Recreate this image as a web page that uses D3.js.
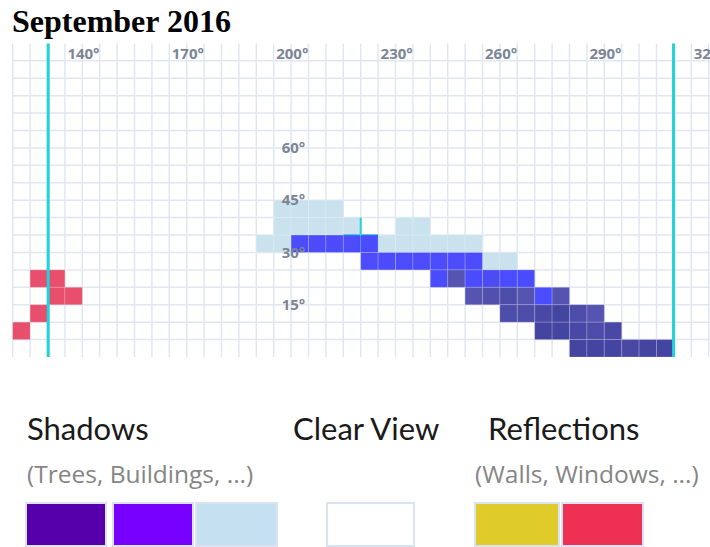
<!DOCTYPE html>
<html>
<head>
<meta charset="utf-8">
<script src="https://cdn.jsdelivr.net/npm/d3@7"></script>
<style>
  body { margin: 0; background: #fff; }
  svg { display: block; }
</style>
</head>
<body>
<svg id="grafico"></svg>
<script>
// rótulos dos eixos (graus)
const azimutesRotulo = [140, 170, 200, 230, 260, 290, 320];
const altitudesRotulo = [15, 30, 45, 60];

// caminho do sol: azimute, altitude (canto inferior esquerdo da célula) e tom (0 = claro, 1 = escuro)
const solAz = [205, 210, 215, 220, 225,
  225, 230, 235, 240, 245, 250, 255,
  245, 250, 255, 260, 265, 270,
  255, 260, 265, 270, 275, 280,
  265, 270, 275, 280, 285, 290,
  275, 280, 285, 290, 295,
  285, 290, 295, 300, 305, 310];
const solAlt = [30, 30, 30, 30, 30,
  25, 25, 25, 25, 25, 25, 25,
  20, 20, 20, 20, 20, 20,
  15, 15, 15, 15, 15, 15,
  10, 10, 10, 10, 10, 10,
  5, 5, 5, 5, 5,
  0, 0, 0, 0, 0, 0];
const solTom = [0.05, 0.05, 0.05, 0.05, 0,
  0.05, 0.05, 0.05, 0.05, 0.05, 0.05, 0.05,
  0, 0.8, 0, 0.1, 0, 0,
  0.8, 0.85, 0.9, 0.8, 0, 0.8,
  0.9, 0.9, 0.95, 1, 0.9, 0.8,
  1, 1, 0.95, 0.9, 0.95,
  1, 1, 1, 0.95, 1, 1];

// sombras leves (azul claro)
const sombraAz = [200, 205, 210, 215,
  200, 205, 210, 215, 220, 235, 240,
  195, 200, 230, 235, 240, 245, 250, 255,
  260, 265];
const sombraAlt = [40, 40, 40, 40,
  35, 35, 35, 35, 35, 35, 35,
  30, 30, 30, 30, 30, 30, 30, 30,
  25, 25];

// reflexos (vermelho)
const reflexoAz = [130, 135, 135, 140, 130, 125];
const reflexoAlt = [20, 20, 15, 15, 10, 5];

// nascer e pôr do sol, posição atual
const nascerAz = 135.2;
const porAz = 314.9;
const atualAz = 225;
const atualAlt = 35;

// legenda
const legendaTitulos = ['Shadows', 'Clear View', 'Reflections'];
const legendaSubtitulos = ['(Trees, Buildings, ...)', '', '(Walls, Windows, ...)'];
const legendaCores = [['#5500aa', '#7700ff', '#c5e0f0'], ['#ffffff'], ['#dfcc2a', '#ef3055']];

let largura = 710;
let altura = 547;

let svg = d3.select('#grafico')
  .attr('width', largura)
  .attr('height', altura);

// escalas
let fnX = d3.scaleLinear().domain([125, 325]).range([12.7, 708.7]);
let fnY = d3.scaleLinear().domain([0, 90]).range([357, 43.4]);
let passo = 5;

let corSol = d3.scaleLinear()
  .domain([0, 0.8, 1])
  .range(['#3c3cff', '#4646aa', '#343499']);

// título
svg.append('text')
  .text('September 2016')
  .attr('x', 12)
  .attr('y', 32)
  .style('font-family', '"Liberation Serif", "Times New Roman", serif')
  .style('font-weight', 'bold')
  .style('font-size', '32px')
  .style('fill', '#000');

let plot = svg.append('g');

// grade
plot.selectAll('.vert')
  .data(d3.range(125, 326, passo))
  .enter()
  .append('line')
  .attr('x1', (d) => fnX(d))
  .attr('x2', (d) => fnX(d))
  .attr('y1', fnY(90))
  .attr('y2', fnY(0))
  .style('stroke', '#e1e7f2')
  .style('stroke-width', 1.5);

plot.selectAll('.horiz')
  .data(d3.range(5, 90, passo))
  .enter()
  .append('line')
  .attr('x1', fnX(125))
  .attr('x2', largura)
  .attr('y1', (d) => fnY(d))
  .attr('y2', (d) => fnY(d))
  .style('stroke', '#e1e7f2')
  .style('stroke-width', 1.5);

// função auxiliar para desenhar células
function celulas(classe, az, alt, cor) {
  plot.selectAll('.' + classe)
    .data(az.map((a, i) => ({ az: a, alt: alt[i], i: i })))
    .enter()
    .append('rect')
    .classed(classe, true)
    .attr('x', (d) => fnX(d.az))
    .attr('y', (d) => fnY(d.alt + passo))
    .attr('width', (d) => fnX(d.az + passo) - fnX(d.az))
    .attr('height', (d) => fnY(d.alt) - fnY(d.alt + passo))
    .style('fill', cor)
    .style('fill-opacity', 0.92)
    .style('stroke', 'rgba(255,255,255,0.2)')
    .style('stroke-width', 1);
}

celulas('sombra', sombraAz, sombraAlt, '#c4e0eb');

// marcador da posição atual
plot.append('line')
  .attr('x1', fnX(atualAz - passo)).attr('x2', fnX(atualAz + passo))
  .attr('y1', fnY(atualAlt)).attr('y2', fnY(atualAlt))
  .style('stroke', '#22d3d8').style('stroke-width', 2);
plot.append('line')
  .attr('x1', fnX(atualAz)).attr('x2', fnX(atualAz))
  .attr('y1', fnY(atualAlt + passo)).attr('y2', fnY(atualAlt - passo))
  .style('stroke', '#22d3d8').style('stroke-width', 2);

celulas('sol', solAz, solAlt, (d) => corSol(solTom[d.i]));
celulas('reflexo', reflexoAz, reflexoAlt, '#e5405f');

// linhas de nascer e pôr do sol
plot.selectAll('.horizonte')
  .data([nascerAz, porAz])
  .enter()
  .append('line')
  .attr('x1', (d) => fnX(d))
  .attr('x2', (d) => fnX(d))
  .attr('y1', fnY(90))
  .attr('y2', fnY(0))
  .style('stroke', '#20d2d9')
  .style('stroke-width', 3);

// rótulos
let estiloRotulo = (sel) => sel
  .style('font-family', '"Open Sans", sans-serif')
  .style('font-weight', 'bold')
  .style('font-size', '15px')
  .style('fill', '#7b8595');

plot.selectAll('.rotuloX')
  .data(azimutesRotulo)
  .enter()
  .append('text')
  .text((d) => d + '°')
  .attr('x', (d) => fnX(d) + 2.5)
  .attr('y', 59)
  .call(estiloRotulo);

plot.selectAll('.rotuloY')
  .data(altitudesRotulo)
  .enter()
  .append('text')
  .text((d) => d + '°')
  .attr('x', fnX(200) + 8)
  .attr('y', (d) => fnY(d))
  .attr('dy', '0.35em')
  .call(estiloRotulo);

// legenda
let legendaX = [27, 293, 475];
let tituloX = [27, 293, 488];
let caixas = [[26, 113, 196], [327], [475, 562]];
let larguraCaixa = [[80, 80, 81], [87], [84, 81]];

legendaTitulos.forEach((t, i) => {
  svg.append('text')
    .text(t)
    .attr('x', tituloX[i])
    .attr('y', 440)
    .style('font-family', 'Lato, sans-serif')
    .style('font-size', '31px')
    .style('fill', '#1a1a1a');

  svg.append('text')
    .text(legendaSubtitulos[i])
    .attr('x', legendaX[i])
    .attr('y', 483)
    .style('font-family', '"Open Sans", sans-serif')
    .style('font-size', '24.5px')
    .style('fill', '#858585');

  legendaCores[i].forEach((c, j) => {
    svg.append('rect')
      .attr('x', caixas[i][j])
      .attr('y', 503)
      .attr('width', larguraCaixa[i][j])
      .attr('height', 43)
      .style('fill', c)
      .style('stroke', '#dbe2f3')
      .style('stroke-width', 2);
  });
});
</script>
</body>
</html>
